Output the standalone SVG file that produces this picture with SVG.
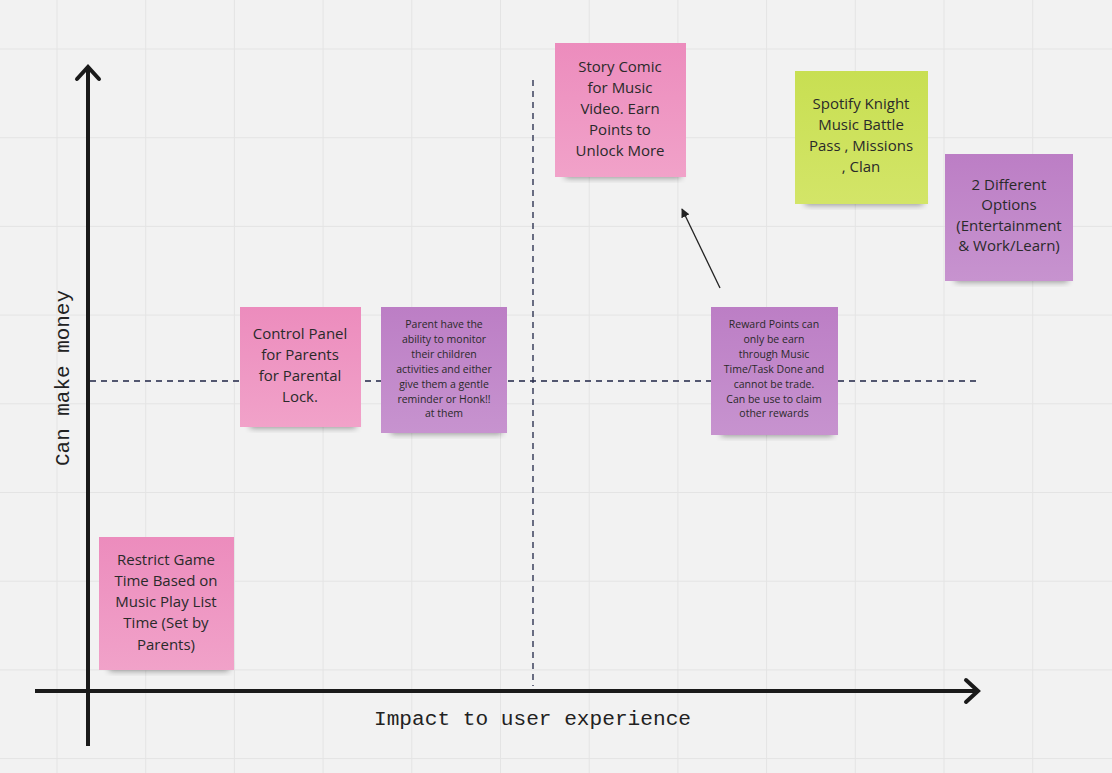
<svg xmlns="http://www.w3.org/2000/svg" width="1112" height="773" viewBox="0 0 1112 773">
<style>
.grid{stroke:#e4e4e4;stroke-width:1}
.axis{stroke:#1a1a1a;stroke-width:4;fill:none;stroke-linecap:square}
.head{stroke:#1a1a1a;stroke-width:4;fill:none;stroke-linecap:round;stroke-linejoin:miter}
.dash{stroke:#1f2545;stroke-width:1.3;stroke-dasharray:6 5;fill:none}
.t{font-family:"Open Sans","Noto Sans",sans-serif;font-size:15px;fill:#2a2a2a;text-anchor:middle}
.s{font-family:"Open Sans","Noto Sans",sans-serif;font-size:10.5px;fill:#2a2a2a;text-anchor:middle}
.lab{font-family:"Liberation Mono","DejaVu Sans Mono",monospace;font-size:20.5px;fill:#222}
.pink{fill:url(#gp)}
.purple{fill:url(#gu)}
.lime{fill:url(#gl)}
.sh{fill:#000;opacity:0.4;filter:url(#blur)}
</style>
<defs>
<linearGradient id="gp" x1="0" y1="0" x2="0" y2="1"><stop offset="0" stop-color="#ec8cbd"/><stop offset="1" stop-color="#f1a2c9"/></linearGradient>
<linearGradient id="gu" x1="0" y1="0" x2="0" y2="1"><stop offset="0" stop-color="#bc7ec5"/><stop offset="1" stop-color="#c793cf"/></linearGradient>
<linearGradient id="gl" x1="0" y1="0" x2="0" y2="1"><stop offset="0" stop-color="#c8df52"/><stop offset="1" stop-color="#d3e568"/></linearGradient>
<filter id="blur" x="-20%" y="-50%" width="140%" height="200%"><feGaussianBlur stdDeviation="3"/></filter>
<marker id="ah" viewBox="0 0 10 10" refX="9" refY="5" markerWidth="9" markerHeight="9" orient="auto" markerUnits="userSpaceOnUse"><path d="M0,0 L10,5 L0,10 Z" fill="#222"/></marker>
</defs>
<rect x="0" y="0" width="1112" height="773" fill="#f2f2f2"/>
<g id="grid">
<line class="grid" x1="57" y1="0" x2="57" y2="773"/>
<line class="grid" x1="145.7" y1="0" x2="145.7" y2="773"/>
<line class="grid" x1="234.4" y1="0" x2="234.4" y2="773"/>
<line class="grid" x1="323.1" y1="0" x2="323.1" y2="773"/>
<line class="grid" x1="411.8" y1="0" x2="411.8" y2="773"/>
<line class="grid" x1="500.5" y1="0" x2="500.5" y2="773"/>
<line class="grid" x1="589.2" y1="0" x2="589.2" y2="773"/>
<line class="grid" x1="677.9" y1="0" x2="677.9" y2="773"/>
<line class="grid" x1="766.6" y1="0" x2="766.6" y2="773"/>
<line class="grid" x1="855.3" y1="0" x2="855.3" y2="773"/>
<line class="grid" x1="944" y1="0" x2="944" y2="773"/>
<line class="grid" x1="1032.7" y1="0" x2="1032.7" y2="773"/>
<line class="grid" x1="0" y1="49" x2="1112" y2="49"/>
<line class="grid" x1="0" y1="137.7" x2="1112" y2="137.7"/>
<line class="grid" x1="0" y1="226.4" x2="1112" y2="226.4"/>
<line class="grid" x1="0" y1="315.1" x2="1112" y2="315.1"/>
<line class="grid" x1="0" y1="403.8" x2="1112" y2="403.8"/>
<line class="grid" x1="0" y1="492.5" x2="1112" y2="492.5"/>
<line class="grid" x1="0" y1="581.2" x2="1112" y2="581.2"/>
<line class="grid" x1="0" y1="669.9" x2="1112" y2="669.9"/>
<line class="grid" x1="0" y1="758.6" x2="1112" y2="758.6"/>
</g>
<g id="connectors">
<line class="dash" x1="533" y1="80" x2="533" y2="686"/>
<line class="dash" x1="90" y1="381" x2="976" y2="381"/>
<line class="axis" x1="88" y1="744" x2="88" y2="69"/>
<path class="head" d="M77,79 L88,67 L99,79"/>
<line class="axis" x1="37" y1="691" x2="976" y2="691"/>
<path class="head" d="M966,680 L978,691 L966,702"/>
<line x1="720" y1="288" x2="682" y2="209" stroke="#222" stroke-width="1.3" marker-end="url(#ah)"/>
</g>
<g id="labels">
<text class="lab" x="374" y="725" textLength="317" lengthAdjust="spacingAndGlyphs">Impact to user experience</text>
<text class="lab" transform="translate(69,466) rotate(-90)" textLength="176" lengthAdjust="spacingAndGlyphs">Can make money</text>
</g>
<g id="note-story">
<rect class="sh" x="565" y="168" width="116" height="10"/>
<rect class="pink" x="555" y="43" width="131" height="134"/>
<text class="t" x="620" y="72">Story Comic</text>
<text class="t" x="620" y="93">for Music</text>
<text class="t" x="620" y="114">Video. Earn</text>
<text class="t" x="620" y="135">Points to</text>
<text class="t" x="620" y="156">Unlock More</text>
</g>
<g id="note-spotify">
<rect class="sh" x="805" y="195" width="118" height="10"/>
<rect class="lime" x="795" y="71" width="133" height="133"/>
<text class="t" x="861" y="109">Spotify Knight</text>
<text class="t" x="861" y="130">Music Battle</text>
<text class="t" x="861" y="151">Pass , Missions</text>
<text class="t" x="861" y="172">, Clan</text>
</g>
<g id="note-options">
<rect class="sh" x="955" y="272" width="113" height="10"/>
<rect class="purple" x="945" y="154" width="128" height="127"/>
<text class="t" x="1009" y="190">2 Different</text>
<text class="t" x="1009" y="210">Options</text>
<text class="t" x="1009" y="231">(Entertainment</text>
<text class="t" x="1009" y="251">&amp; Work/Learn)</text>
</g>
<g id="note-control">
<rect class="sh" x="250" y="418" width="106" height="10"/>
<rect class="pink" x="240" y="307" width="121" height="120"/>
<text class="t" x="300" y="339">Control Panel</text>
<text class="t" x="300" y="360">for Parents</text>
<text class="t" x="300" y="381">for Parental</text>
<text class="t" x="300" y="402">Lock.</text>
</g>
<g id="note-parent">
<rect class="sh" x="391" y="424" width="111" height="10"/>
<rect class="purple" x="381" y="307" width="126" height="126"/>
<text class="s" x="444" y="328">Parent have the</text>
<text class="s" x="444" y="343">ability to monitor</text>
<text class="s" x="444" y="358">their children</text>
<text class="s" x="444" y="373">activities and either</text>
<text class="s" x="444" y="388">give them a gentle</text>
<text class="s" x="444" y="403">reminder or Honk!!</text>
<text class="s" x="444" y="417">at them</text>
</g>
<g id="note-reward">
<rect class="sh" x="721" y="426" width="112" height="10"/>
<rect class="purple" x="711" y="307" width="127" height="128"/>
<text class="s" x="774" y="328">Reward Points can</text>
<text class="s" x="774" y="343">only be earn</text>
<text class="s" x="774" y="358">through Music</text>
<text class="s" x="774" y="373">Time/Task Done and</text>
<text class="s" x="774" y="388">cannot be trade.</text>
<text class="s" x="774" y="403">Can be use to claim</text>
<text class="s" x="774" y="417">other rewards</text>
</g>
<g id="note-restrict">
<rect class="sh" x="109" y="661" width="120" height="10"/>
<rect class="pink" x="99" y="537" width="135" height="133"/>
<text class="t" x="166" y="565">Restrict Game</text>
<text class="t" x="166" y="586">Time Based on</text>
<text class="t" x="166" y="607">Music Play List</text>
<text class="t" x="166" y="628">Time (Set by</text>
<text class="t" x="166" y="650">Parents)</text>
</g>
</svg>
